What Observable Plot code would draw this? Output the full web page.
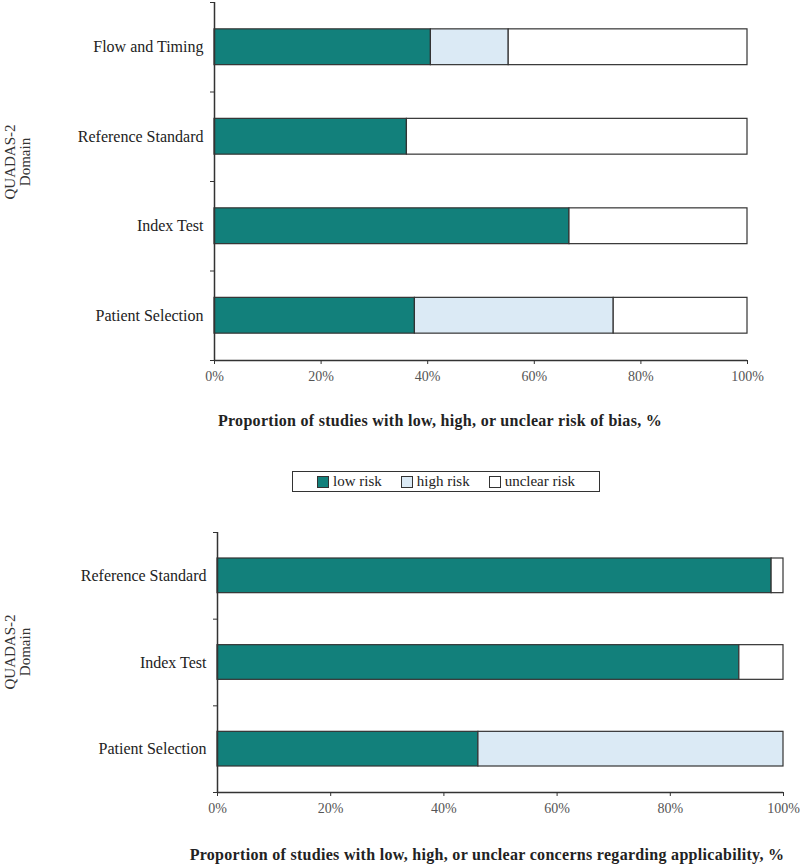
<!DOCTYPE html>
<html><head><meta charset="utf-8">
<script src="https://cdn.jsdelivr.net/npm/d3@7"></script>
<script src="https://cdn.jsdelivr.net/npm/@observablehq/plot@0.6"></script>
<style>
body{margin:0;background:#fff;font-family:"Liberation Serif","Times New Roman",serif;color:#222;}
#wrap{position:relative;width:800px;height:864px;overflow:hidden;}
svg text{font-family:"Liberation Serif","Times New Roman",serif !important;}
.abs{position:absolute;}
.title{font-weight:bold;font-size:16px;letter-spacing:0.3px;white-space:nowrap;transform:translateX(-50%);line-height:18px;}
.ytitle{font-size:15px;line-height:15px;text-align:center;white-space:nowrap;transform:translate(-50%,-50%) rotate(-90deg);color:#333;}
#legend{left:292px;top:471px;width:306px;height:19px;border:1.5px solid #333;display:flex;align-items:center;justify-content:center;gap:19px;font-size:15px;}
#legend .item{display:flex;align-items:center;gap:4px;}
#legend .sw{width:10px;height:10px;border:1px solid #333;}
</style></head><body><div id="wrap"></div>
<script>
const riskLevels = ["low risk", "high risk", "unclear risk"];
const riskColors = ["#12807b", "#dbeaf5", "#ffffff"];

const biasDomains = ["Flow and Timing", "Reference Standard", "Index Test", "Patient Selection"];
const biasLow = [40.6, 36.1, 66.6, 37.6];
const biasHigh = [14.6, 0, 0, 37.3];
const biasUnclear = [44.8, 63.9, 33.4, 25.1];

const applDomains = ["Reference Standard", "Index Test", "Patient Selection"];
const applLow = [97.9, 92.2, 46.1];
const applHigh = [0, 0, 53.9];
const applUnclear = [2.1, 7.8, 0];

const xTicks = [0, 20, 40, 60, 80, 100];
const yTitle = ["QUADAS-2", "Domain"];
const biasTitle = "Proportion of studies with low, high, or unclear risk of bias, %";
const applTitle = "Proportion of studies with low, high, or unclear concerns regarding applicability, %";

function segments(domains, series) {
  const out = [];
  domains.forEach((d, i) => {
    let cum = 0;
    series.forEach((vals, k) => {
      const v = vals[i];
      if (v > 0) out.push({domain: d, level: riskLevels[k], x1: cum, x2: cum + v, y1: i + 0.3, y2: i + 0.7});
      cum += v;
    });
  });
  return out;
}

function chart(domains, series, m, height) {
  const n = domains.length;
  return Plot.plot({
    width: 800, height,
    marginLeft: m.left, marginRight: m.right, marginTop: m.top, marginBottom: m.bottom,
    style: {fontFamily: "'Liberation Serif', 'Times New Roman', serif", background: "transparent", overflow: "visible"},
    x: {domain: [0, 100]},
    y: {domain: [n, 0]},
    color: {domain: riskLevels, range: riskColors},
    marks: [
      Plot.rect(segments(domains, series), {x1: "x1", x2: "x2", y1: "y1", y2: "y2", fill: "level", stroke: "#333", strokeWidth: 1.2}),
      Plot.ruleX([0], {stroke: "#333", strokeWidth: 1.5}),
      Plot.ruleY([n], {stroke: "#333", strokeWidth: 1.5}),
      Plot.axisY(d3.range(n + 1), {tickSize: 4, tickFormat: () => "", stroke: "#333", label: null}),
      Plot.axisY(d3.range(n).map(i => i + 0.5), {tickSize: 0, tickPadding: 11, tickFormat: v => domains[Math.floor(v)], fontSize: 16, fill: "#222", label: null}),
      Plot.axisX(xTicks, {tickSize: 4, tickPadding: 7, tickFormat: d => d + "%", fontSize: 14, fill: "#555", stroke: "#333", label: null})
    ]
  });
}

const wrap = document.getElementById("wrap");

const c1 = chart(biasDomains, [biasLow, biasHigh, biasUnclear], {left: 214, right: 53, top: 2, bottom: 40}, 400);
c1.classList.add("abs"); c1.style.left = "0px"; c1.style.top = "0px";
wrap.appendChild(c1);

const c2 = chart(applDomains, [applLow, applHigh, applUnclear], {left: 217, right: 17, top: 32, bottom: 40}, 332);
c2.classList.add("abs"); c2.style.left = "0px"; c2.style.top = "500px";
wrap.appendChild(c2);

function addDiv(cls, html, left, top) {
  const d = document.createElement("div");
  d.className = "abs " + cls;
  d.innerHTML = html;
  d.style.left = left + "px"; d.style.top = top + "px";
  wrap.appendChild(d);
  return d;
}
addDiv("title", biasTitle, 440, 412);
addDiv("title", applTitle, 487, 846);
addDiv("ytitle", yTitle.join("<br>"), 18, 162);
addDiv("ytitle", yTitle.join("<br>"), 18, 652);

const lg = document.createElement("div");
lg.id = "legend"; lg.className = "abs";
riskLevels.forEach((l, k) => {
  const it = document.createElement("div"); it.className = "item";
  const sw = document.createElement("div"); sw.className = "sw"; sw.style.background = riskColors[k];
  const tx = document.createElement("span"); tx.textContent = l;
  it.appendChild(sw); it.appendChild(tx); lg.appendChild(it);
});
wrap.appendChild(lg);
</script></body></html>
